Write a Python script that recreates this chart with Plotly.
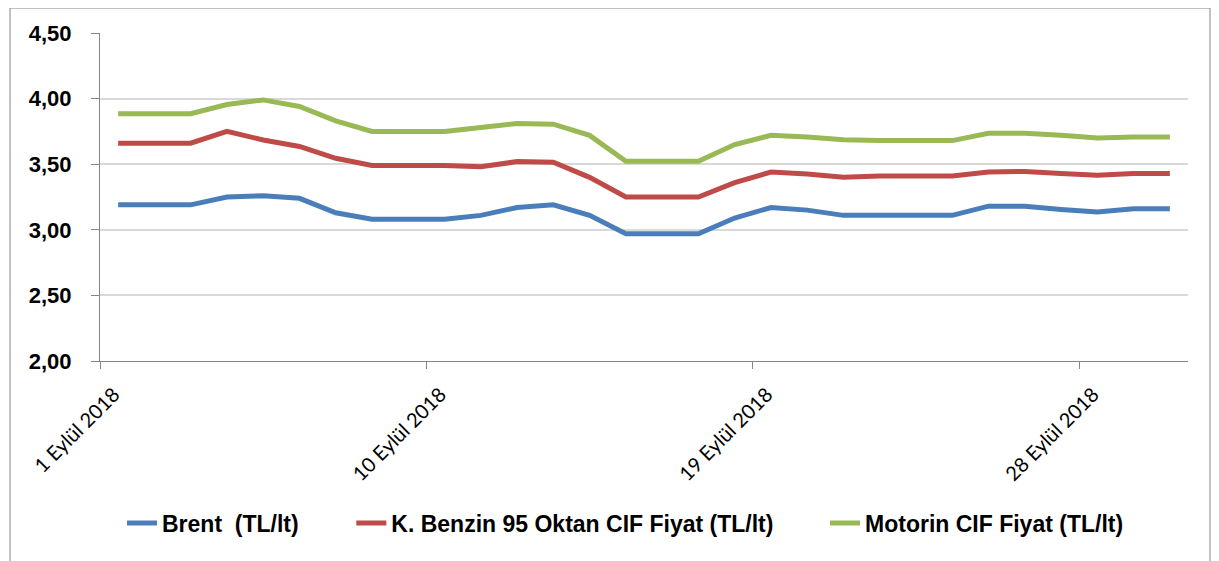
import plotly.graph_objects as go

# Data
dates = ["2018-09-01", "2018-09-02", "2018-09-03", "2018-09-04", "2018-09-05",
         "2018-09-06", "2018-09-07", "2018-09-08", "2018-09-09", "2018-09-10",
         "2018-09-11", "2018-09-12", "2018-09-13", "2018-09-14", "2018-09-15",
         "2018-09-16", "2018-09-17", "2018-09-18", "2018-09-19", "2018-09-20",
         "2018-09-21", "2018-09-22", "2018-09-23", "2018-09-24", "2018-09-25",
         "2018-09-26", "2018-09-27", "2018-09-28", "2018-09-29", "2018-09-30"]

brent = [3.19, 3.19, 3.19, 3.25, 3.26, 3.24, 3.13, 3.08, 3.08, 3.08,
         3.11, 3.17, 3.19, 3.11, 2.97, 2.97, 2.97, 3.09, 3.17, 3.15,
         3.11, 3.11, 3.11, 3.11, 3.18, 3.18, 3.155, 3.135, 3.16, 3.16]

benzin = [3.66, 3.66, 3.66, 3.75, 3.685, 3.635, 3.545, 3.49, 3.49, 3.49,
          3.48, 3.52, 3.515, 3.40, 3.25, 3.25, 3.25, 3.36, 3.44, 3.425,
          3.40, 3.41, 3.41, 3.41, 3.44, 3.445, 3.43, 3.415, 3.43, 3.43]

motorin = [3.885, 3.885, 3.885, 3.955, 3.99, 3.94, 3.83, 3.75, 3.75, 3.75,
           3.78, 3.81, 3.805, 3.72, 3.523, 3.523, 3.523, 3.65, 3.72, 3.707,
           3.686, 3.68, 3.68, 3.68, 3.735, 3.735, 3.72, 3.70, 3.707, 3.707]

series_names = ["Brent  (TL/lt)", "K. Benzin 95 Oktan CIF Fiyat (TL/lt)", "Motorin CIF Fiyat (TL/lt)"]
series_colors = ["#4A7EBB", "#BE4B48", "#98B954"]

tick_dates = ["2018-09-01", "2018-09-10", "2018-09-19", "2018-09-28"]
tick_labels = ["1 Eylül 2018", "10 Eylül 2018", "19 Eylül 2018", "28 Eylül 2018"]
y_ticks = [2.0, 2.5, 3.0, 3.5, 4.0, 4.5]

legend_ids = ["legend", "legend2", "legend3"]
legend_x = [0.0202, 0.2310, 0.6664]

fig = go.Figure()
for name, vals, col, lid in zip(series_names, [brent, benzin, motorin], series_colors, legend_ids):
    fig.add_trace(go.Scatter(
        x=dates, y=vals, name=name, mode="lines",
        xperiod=86400000, xperiodalignment="middle",
        line=dict(color=col, width=5), legend=lid,
    ))

legend_font = dict(family="'Liberation Sans', Arial, sans-serif", size=23, color="black", weight="bold")
legend_layout = {}
for lid, lx in zip(legend_ids, legend_x):
    legend_layout[lid] = dict(
        orientation="h", x=lx, xanchor="left", y=-0.494, yanchor="middle",
        font=legend_font, itemwidth=30, bgcolor="rgba(0,0,0,0)",
    )

fig.update_layout(
    width=1211, height=553,
    margin=dict(l=92, r=31, t=25, b=200, autoexpand=False),
    paper_bgcolor="white", plot_bgcolor="white",
    separators=",.",
    font=dict(family="Lato, 'Liberation Sans', sans-serif", color="black"),
    showlegend=True,
    shapes=[dict(type="rect", xref="paper", yref="paper",
                 x0=-0.0827, x1=1.0202, y0=-0.65, y1=1.0762,
                 line=dict(color="#868686", width=1), layer="below")],
    **legend_layout,
)

fig.update_xaxes(
    type="date",
    range=["2018-09-01", "2018-10-01"],
    tickmode="array", tickvals=tick_dates, ticktext=tick_labels,
    tickangle=-45,
    tickfont=dict(family="Lato, 'Liberation Sans', sans-serif", size=20, color="black"),
    ticks="outside", ticklen=7, tickcolor="#868686",
    showgrid=False, showline=True, linecolor="#868686", linewidth=1,
    ticklabelshift=14, ticklabelstandoff=6,
    zeroline=False, automargin=False,
)

fig.update_yaxes(
    range=[2.0, 4.5],
    tickmode="array", tickvals=y_ticks, tickformat=".2f",
    tickfont=dict(family="'Liberation Sans', Arial, sans-serif", size=22, color="black", weight="bold"),
    ticks="outside", ticklen=8, tickcolor="#868686",
    showgrid=True, gridcolor="#D9D9D9", gridwidth=1.5,
    showline=True, linecolor="#868686", linewidth=1,
    zeroline=False, ticklabelstandoff=15, automargin=False,
)

fig.write_html("out.html")
